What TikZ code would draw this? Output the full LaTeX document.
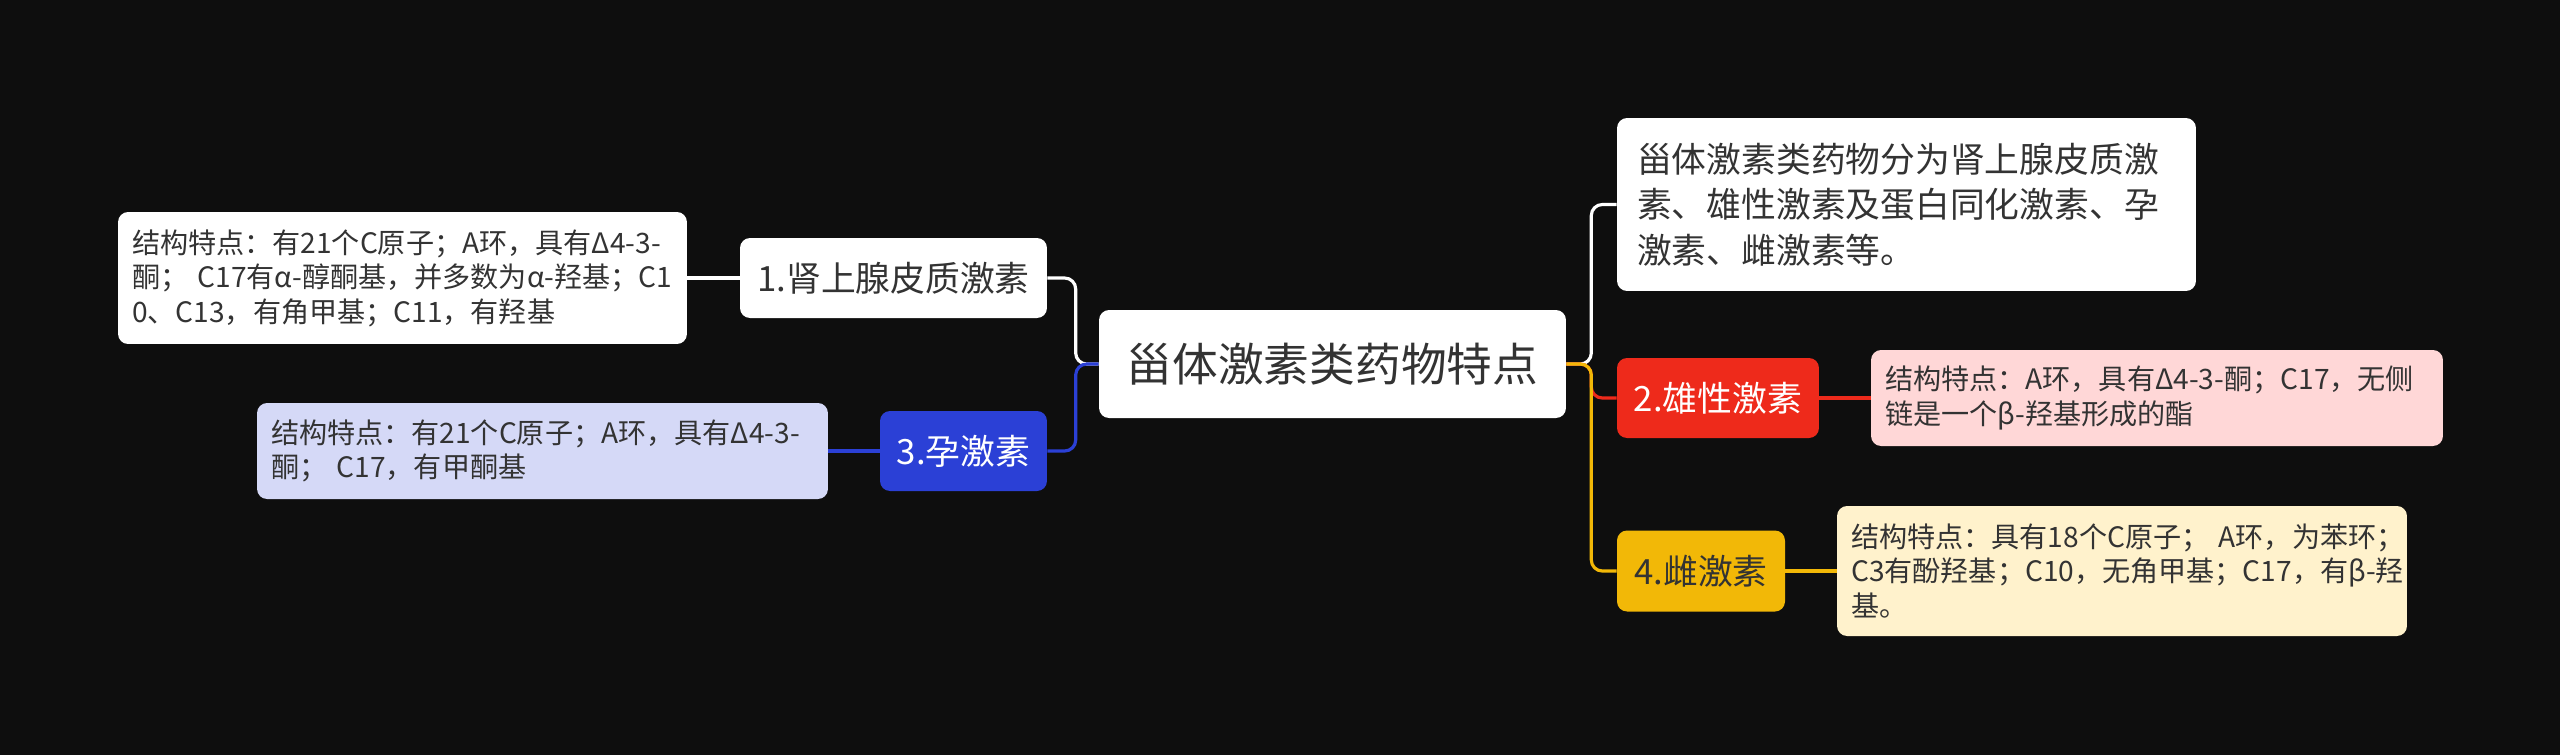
\documentclass[tikz,border=0pt]{standalone}
\usepackage{fontspec}
\newfontfamily\cjk{Noto Sans CJK SC}
\usetikzlibrary{calc}
\definecolor{bgc}{HTML}{0E0E0E}
\definecolor{txt}{HTML}{333333}
\definecolor{cblue}{HTML}{2B40D6}
\definecolor{cred}{HTML}{EE2A1B}
\definecolor{cyel}{HTML}{F2B807}
\definecolor{cpink}{HTML}{FFD7D7}
\definecolor{ccream}{HTML}{FFF2CC}
\definecolor{clav}{HTML}{D5D9F7}
\newcommand{\rowln}[1]{\mbox{#1}}
\begin{document}
\begin{tikzpicture}[x=0.02cm,y=-0.02cm,
  box/.style={rounded corners=0.2cm, inner ysep=0pt, font=\cjk, text=txt},
  rootbox/.style={box, fill=white, minimum width=9.34cm, minimum height=2.16cm, inner xsep=0pt, font=\cjk\fontsize{26pt}{30pt}\selectfont},
  lvbox/.style={box, minimum height=1.6cm, inner xsep=0pt, align=center, font=\cjk\fontsize{19.8pt}{24pt}\selectfont},
  detbox/.style={box, inner xsep=0.28cm, align=left, font=\cjk\fontsize{16pt}{19.6pt}\selectfont},
  conn/.style={line width=1.8pt, rounded corners=0.22cm}]
\fill[bgc] (0,0) rectangle (2560,755);
\useasboundingbox (0,0) rectangle (2560,755);

% root
\node[rootbox] (root) at (1332.5,364) {甾体激素类药物特点};

% left branch
\node[lvbox, fill=white, minimum width=6.14cm] (n1) at (893.5,278) {1.肾上腺皮质激素};
\node[detbox, fill=white, text width=10.82cm, minimum height=2.64cm] (d1) at (402.5,278)
 {\rowln{结构特点：有21个C原子；A环，具有Δ4-3-}\\\rowln{酮； C17有α-醇酮基，并多数为α-羟基；C1}\\\rowln{0、C13，有角甲基；C11，有羟基}};
\node[lvbox, fill=cblue, text=white, minimum width=3.34cm] (n3) at (963.5,451) {3.孕激素};
\node[detbox, fill=clav, text width=10.86cm, minimum height=1.92cm] (d3) at (542.5,451)
 {\rowln{结构特点：有21个C原子；A环，具有Δ4-3-}\\\rowln{酮； C17，有甲酮基}};

% right branch
\node[detbox, fill=white, inner xsep=0.4cm, text width=10.78cm, minimum height=3.46cm, font=\cjk\fontsize{19.8pt}{26pt}\selectfont] (tr) at (1906.5,204.5)
 {\rowln{甾体激素类药物分为肾上腺皮质激}\\\rowln{素、雄性激素及蛋白同化激素、孕}\\\rowln{激素、雌激素等。}};
\node[lvbox, fill=cred, text=white, minimum width=4.04cm] (n2) at (1718,398) {2.雄性激素};
\node[detbox, fill=cpink, text width=10.88cm, minimum height=1.92cm] (d2) at (2157,398)
 {\rowln{结构特点：A环，具有Δ4-3-酮；C17，无侧}\\\rowln{链是一个β-羟基形成的酯}};
\node[lvbox, fill=cyel, minimum width=3.36cm, minimum height=1.62cm] (n4) at (1701,571) {4.雌激素};
\node[detbox, fill=ccream, text width=10.84cm, minimum height=2.6cm] (d4) at (2122,571)
 {\rowln{结构特点：具有18个C原子； A环，为苯环；}\\\rowln{C3有酚羟基；C10，无角甲基；C17，有β-羟}\\\rowln{基。}};

% junctions
\coordinate (jr) at ($(root.east)+(25,0)$);
\coordinate (jl) at ($(root.west)+(-23,0)$);

% connectors right
\draw[conn, white] (root.east) -- (jr) |- (tr.west);
\draw[conn, cred] (root.east) -- (jr) |- (n2.west);
\draw[conn, cyel] (root.east) -- (jr) |- (n4.west);
% connectors left
\draw[conn, white] (root.west) -- (jl) |- (n1.east);
\draw[conn, cblue] (root.west) -- (jl) |- (n3.east);
% detail connectors
\draw[conn, white] (n1.west) -- (d1.east);
\draw[conn, cblue] (n3.west) -- (d3.east);
\draw[conn, cred] (n2.east) -- (d2.west);
\draw[conn, cyel] (n4.east) -- (d4.west);
\end{tikzpicture}
\end{document}
